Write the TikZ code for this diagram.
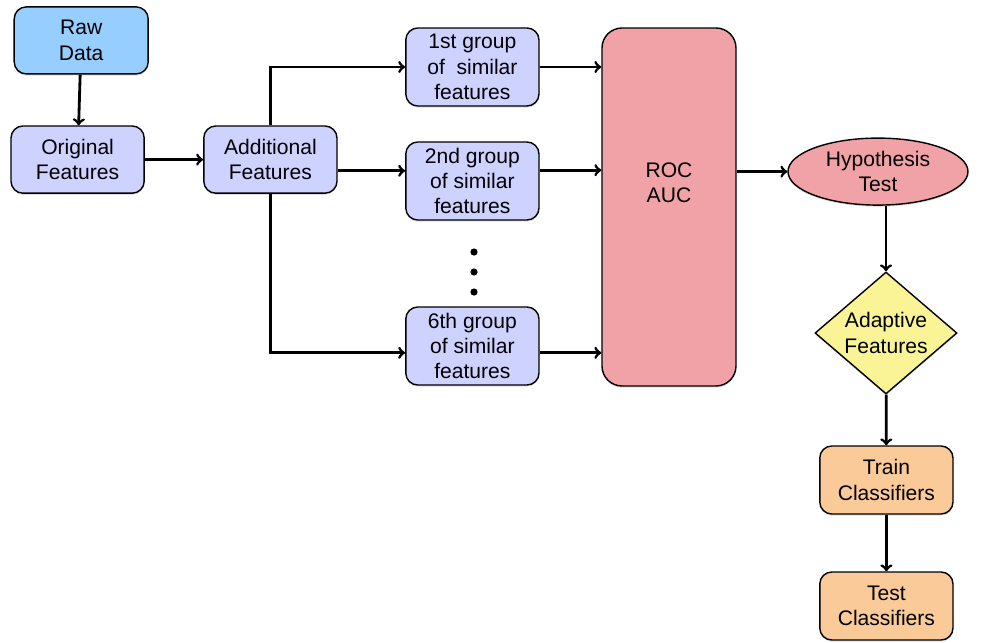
\documentclass[tikz,border=0pt]{standalone}
\usepackage{fontspec}
\setmainfont{Liberation Sans}
\usepackage{xcolor}
\usetikzlibrary{shapes.geometric,shadows}

\definecolor{rawblue}{RGB}{150,206,255}
\definecolor{featblue}{RGB}{206,210,255}
\definecolor{rocred}{RGB}{240,162,166}
\definecolor{adaptyellow}{RGB}{250,244,150}
\definecolor{clfpeach}{RGB}{250,202,152}

\tikzset{
  box/.style={draw, line width=1pt, rounded corners=0.3cm, align=center,
    minimum width=3.33cm, inner sep=0pt,
    drop shadow={opacity=0.25, shadow xshift=0pt, shadow yshift=-1.2pt},
    font=\fontsize{15}{18}\selectfont},
  flow/.style={line width=2pt, ->}
}

\begin{document}
\begin{tikzpicture}
      \useasboundingbox (0,0) rectangle (24.55,-16.075);

      \node[box, fill=rawblue, minimum height=1.675cm, minimum width=3.35cm](raw) at (2.03, -1.01){Raw\\Data};
      \node[box, fill=featblue, minimum height=1.68cm](orig) at (1.94, -3.99){Original\\Features};
      \node[box, fill=featblue, minimum height=1.68cm](add) at (6.76, -3.99){Additional\\Features};

      \node[box, fill=featblue, minimum height=1.95cm](grpA) at (11.81, -1.675){1st group\\of\ \ similar\\features};
      \node[box, fill=featblue, minimum height=1.95cm](grpB) at (11.81, -4.525){2nd group\\of similar\\features};
      \node[box, fill=featblue, minimum height=1.95cm](grpF) at (11.81, -8.65){6th group\\of similar\\features};

      \fill (11.85, -6.3) circle (0.09);
      \fill (11.85, -6.8) circle (0.09);
      \fill (11.85, -7.3) circle (0.09);

      \node[box, fill=rocred, rounded corners=0.5cm, minimum width=3.35cm, minimum height=8.95cm](roc) at (16.725, -5.175){};
      \node[align=center, font=\fontsize{15}{18}\selectfont](roctext) at (16.725, -4.575){ROC\\AUC};

      \node[draw, line width=1pt, ellipse, fill=rocred, minimum width=4.5cm, minimum height=1.675cm,
        inner sep=0pt, align=center, font=\fontsize{15}{18}\selectfont,
        drop shadow={opacity=0.25, shadow xshift=0pt, shadow yshift=-1.2pt}](hyp) at (21.95, -4.29){Hypothesis\\Test};

      \node[draw, line width=1pt, diamond, aspect=1.16, fill=adaptyellow, minimum width=3.55cm, minimum height=3.05cm,
        inner sep=0pt, align=center, font=\fontsize{15}{18}\selectfont,
        drop shadow={opacity=0.25, shadow xshift=0pt, shadow yshift=-1.2pt}](adapt) at (22.15, -8.325){Adaptive\\Features};

      \node[box, fill=clfpeach, minimum height=1.7cm](train) at (22.16, -12.0){Train\\Classifiers};
      \node[box, fill=clfpeach, minimum height=1.7cm](test) at (22.16, -15.15){Test\\Classifiers};

      % connectors
      \draw [flow] (raw) -- (orig);
      \draw [flow] (orig) -- (add);
      \draw [flow] ([xshift=0.01cm]add.north) |- (grpA.west);
      \draw [flow] ([yshift=-0.28cm]add.east) -- ([yshift=-0.28cm]add.east -| grpB.west);
      \draw [flow] ([xshift=0.01cm]add.south) |- ([yshift=-0.17cm]grpF.west);

      \draw [flow] (grpA.east) -- (grpA.east -| roc.west);
      \draw [flow] ([yshift=0.27cm]grpB.east) -- ([yshift=0.27cm]grpB.east -| roc.west);
      \draw [flow] ([yshift=-0.17cm]grpF.east) -- ([yshift=-0.17cm]grpF.east -| roc.west);

      \draw [flow] (roc.east |- hyp.west) -- (hyp.west);
      \draw [flow] (adapt.north |- hyp.south) -- (adapt.north);
      \draw [flow] (adapt) -- (train);
      \draw [flow] (train) -- (test);
    \end{tikzpicture}
\end{document}
